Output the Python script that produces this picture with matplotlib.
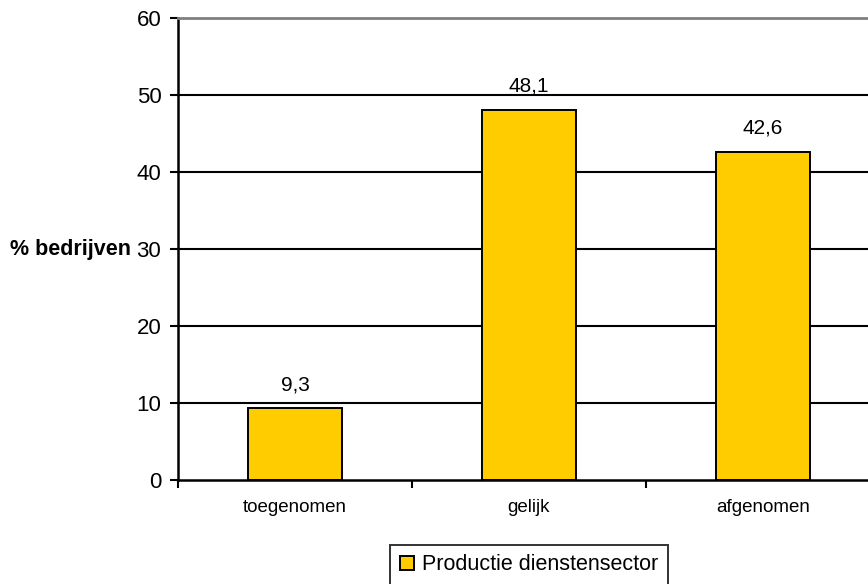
import matplotlib
matplotlib.use("Agg")
import matplotlib.pyplot as plt

plt.rcParams['font.family'] = ['Liberation Sans', 'DejaVu Sans']

categories = ["toegenomen", "gelijk", "afgenomen"]
values = [9.3, 48.1, 42.6]
series_name = "Productie dienstensector"
yticks = [0, 10, 20, 30, 40, 50, 60]

fig = plt.figure(figsize=(8.68, 5.84), dpi=100)
ax = fig.add_axes([178/868, 104/584, (880-178)/868, (480-18)/584])

x = list(range(len(categories)))
bars = ax.bar(x, values, width=0.4, color="#FFCC00", edgecolor="black",
              linewidth=1.4, label=series_name, zorder=3)

ax.set_xlim(-0.5, len(categories) - 0.5)
ax.set_ylim(0, 60)
ax.set_yticks(yticks)
ax.set_yticklabels([str(t) for t in yticks], fontsize=16)
ax.set_xticks([i + 0.5 for i in x[:-1]] + [-0.5])
ax.set_xticklabels([])
ax.set_xticks(x, minor=True)
ax.set_xticklabels(categories, minor=True, fontsize=13.5)
ax.tick_params(axis='x', which='minor', length=0, pad=14)
ax.tick_params(axis='x', which='major', length=6, width=1.5, direction='out')
ax.tick_params(axis='y', length=6, width=1.5, direction='out', pad=6)

for t in yticks[1:-1]:
    ax.axhline(t, color="black", linewidth=1.5, zorder=1)

ax.spines['right'].set_visible(False)
ax.spines['top'].set_color('#808080')
ax.spines['top'].set_linewidth(2)
ax.spines['left'].set_linewidth(1.8)
ax.spines['bottom'].set_linewidth(1.8)

for b, v in zip(bars, values):
    ax.annotate(f"{v:.1f}".replace(".", ","), (b.get_x() + b.get_width()/2, v),
                xytext=(0, 13), textcoords="offset points", ha="center",
                va="baseline", fontsize=15)

ax.set_ylabel("% bedrijven", fontsize=15.5, fontweight="bold", rotation=0,
              ha="right", va="center")
ax.yaxis.set_label_coords(-47/702, 0.5)

leg = fig.legend(loc="center", bbox_to_anchor=(529/868, 1 - 565/584),
                 fontsize=15.5, frameon=True, fancybox=False, edgecolor="black",
                 handlelength=0.65, handleheight=0.65, handletextpad=0.37,
                 borderpad=0.45, borderaxespad=0)
leg.get_frame().set_linewidth(1.4)

fig.savefig("out.png", dpi=100)
